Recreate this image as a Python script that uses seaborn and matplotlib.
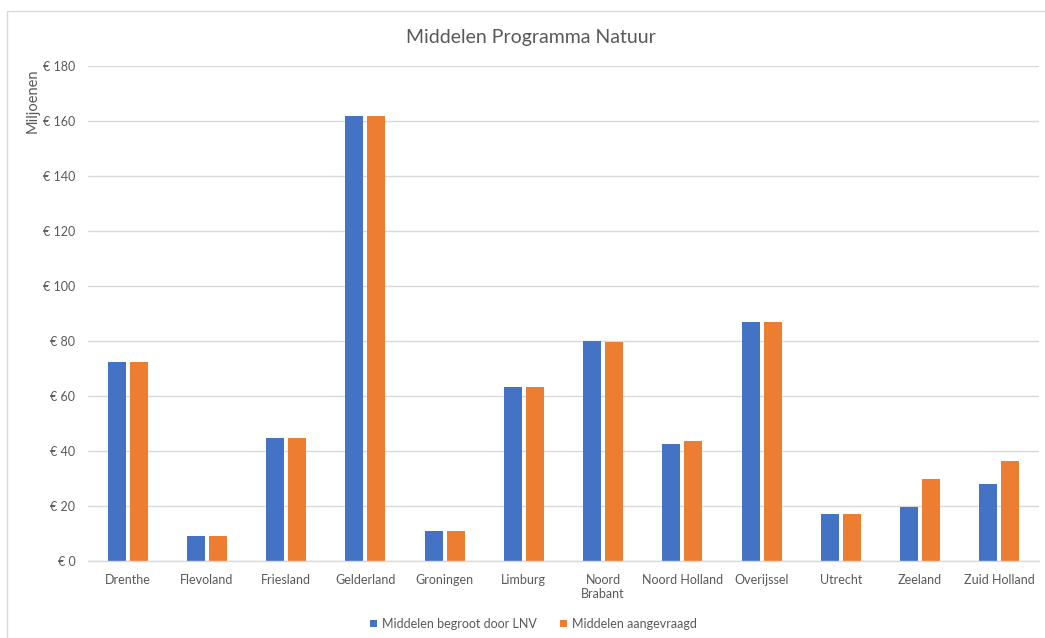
import matplotlib
matplotlib.use("Agg")
import matplotlib.pyplot as plt
import seaborn as sns
import pandas as pd
from matplotlib.patches import Rectangle
from matplotlib.ticker import FuncFormatter

provinces = ["Drenthe", "Flevoland", "Friesland", "Gelderland", "Groningen", "Limburg",
             "Noord\nBrabant", "Noord Holland", "Overijssel", "Utrecht", "Zeeland", "Zuid Holland"]
begroot = [72.4, 9.1, 44.7, 161.8, 10.9, 63.3, 79.9, 42.7, 86.9, 17.2, 19.5, 28.0]
aangevraagd = [72.4, 9.1, 44.7, 161.8, 10.9, 63.3, 79.6, 43.6, 86.9, 17.2, 29.8, 36.3]
series_names = ["Middelen begroot door LNV", "Middelen aangevraagd"]
yticks = [0, 20, 40, 60, 80, 100, 120, 140, 160, 180]

df = pd.DataFrame({
    "Provincie": provinces * 2,
    "Waarde": begroot + aangevraagd,
    "Reeks": [series_names[0]] * len(provinces) + [series_names[1]] * len(provinces),
})

sns.set_style("white")
plt.rcParams["font.family"] = ["Lato", "DejaVu Sans"]
txt = "#595959"
fs = 9

fig = plt.figure(figsize=(10.45, 6.38), dpi=100)
ax = fig.add_axes([88 / 1045, 1 - 561 / 638, (1039 - 88) / 1045, (561 - 66) / 638])

sns.barplot(data=df, x="Provincie", y="Waarde", hue="Reeks", order=provinces,
            palette=["#4472C4", "#ED7D31"], saturation=1, width=0.555, gap=0.18, ax=ax,
            linewidth=0, errorbar=None)

ax.set_xlim(-0.5, len(provinces) - 0.5)
ax.set_ylim(0, 180)
ax.set_yticks(yticks)
ax.yaxis.set_major_formatter(FuncFormatter(lambda v, p: f"€ {int(v)}"))
ax.grid(axis="y", color="#d9d9d9", linewidth=1)
ax.set_axisbelow(True)
for s in ["top", "right", "left"]:
    ax.spines[s].set_visible(False)
ax.spines["bottom"].set_color("#d9d9d9")
ax.spines["bottom"].set_linewidth(1)
ax.tick_params(axis="both", length=0, colors=txt, labelsize=fs)
ax.tick_params(axis="y", pad=9)
ax.tick_params(axis="x", pad=9)
for lab in ax.get_xticklabels():
    lab.set_color(txt)
ax.set_xlabel("")
ax.set_ylabel("")

fig.text(33 / 1045, 1 - 101 / 638, "Miljoenen", rotation=90, ha="center", va="center",
         fontsize=10.5, color=txt)
fig.text(531 / 1045, 1 - 38 / 638, "Middelen Programma Natuur", ha="center", va="center",
         fontsize=14, color=txt)

handles, labels = ax.get_legend_handles_labels()
ax.legend_.remove()
fig.legend(handles, labels, loc="center", bbox_to_anchor=(533 / 1045, 1 - 624 / 638),
           ncol=2, frameon=False, fontsize=fs, handlelength=0.56, handleheight=0.56,
           handletextpad=0.4, columnspacing=1.85, labelcolor=txt)

fig.patches.append(Rectangle((6.5 / 1045, -0.1), 1.2, 1 - 11 / 638 + 0.1,
                             transform=fig.transFigure, fill=False,
                             edgecolor="#d9d9d9", linewidth=1))

fig.savefig("out.png", dpi=100)
